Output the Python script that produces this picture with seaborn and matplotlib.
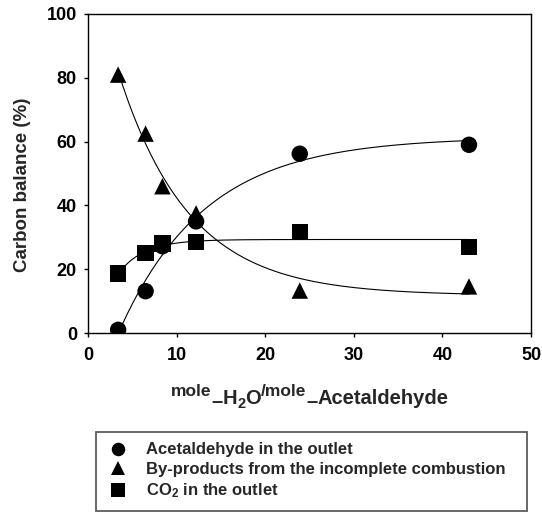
import numpy as np
import pandas as pd
import matplotlib
matplotlib.use("Agg")
import matplotlib.pyplot as plt
import seaborn as sns

# Molar ratio H2O / acetaldehyde and carbon balance of each product (%)
ratio = [3.4, 6.5, 8.4, 12.2, 23.9, 43.0]
acetaldehyde = [1.0, 13.1, 27.2, 35.0, 56.2, 59.0]
byproducts = [81.0, 62.5, 46.0, 37.5, 13.3, 14.6]
co2 = [18.6, 25.1, 28.0, 28.6, 31.6, 27.0]

series_names = [
    "Acetaldehyde in the outlet",
    "By-products from the incomplete combustion",
    r"CO$_\mathbf{2}$ in the outlet",
]
series_values = [acetaldehyde, byproducts, co2]
series_markers = ["o", "^", "s"]

x_ticks = [0, 10, 20, 30, 40, 50]
y_ticks = [0, 20, 40, 60, 80, 100]

W, H = 542, 516

sns.set_style("white")
plt.rcParams["font.family"] = ["Liberation Sans", "DejaVu Sans"]
plt.rcParams["font.weight"] = "bold"
plt.rcParams["mathtext.fontset"] = "custom"
plt.rcParams["mathtext.rm"] = "Liberation Sans:bold"
plt.rcParams["mathtext.bf"] = "Liberation Sans:bold"
plt.rcParams["mathtext.it"] = "Liberation Sans:bold"


def exp_fit(x, y):
    """Least-squares fit of y = c + d*exp(-b*x); returns a callable."""
    x = np.asarray(x, float)
    y = np.asarray(y, float)
    best = None
    for b in np.linspace(0.005, 1.5, 3000):
        A = np.column_stack([np.ones_like(x), np.exp(-b * x)])
        coef, *_ = np.linalg.lstsq(A, y, rcond=None)
        err = np.sum((A @ coef - y) ** 2)
        if best is None or err < best[0]:
            best = (err, b, coef)
    _, b, (c, d) = best
    return lambda t: c + d * np.exp(-b * t)


rows = []
for name, vals in zip(series_names, series_values):
    for xv, yv in zip(ratio, vals):
        rows.append({"ratio": xv, "value": yv, "series": name})
df = pd.DataFrame(rows)

fig = plt.figure(figsize=(W / 100, H / 100), dpi=100)
ax = fig.add_axes([88 / W, 1 - 333 / H, (531 - 88) / W, (333 - 14) / H])

# fitted curves
xs = np.linspace(min(ratio), max(ratio), 300)
for vals in series_values:
    f = exp_fit(ratio, vals)
    sns.lineplot(x=xs, y=f(xs), ax=ax, color="black", linewidth=0.8, legend=False)

sns.scatterplot(
    data=df, x="ratio", y="value", hue="series", style="series",
    palette=["black"] * 3, markers=dict(zip(series_names, series_markers)),
    s=140, edgecolor="black", linewidth=0, ax=ax, legend=True, zorder=3,
)

ax.set_xlim(0, 50)
ax.set_ylim(0, 100)
ax.set_xticks(x_ticks)
ax.set_yticks(y_ticks)
ax.tick_params(axis="both", direction="out", length=3, width=1, labelsize=13,
               bottom=True, left=True, colors="black")
ax.tick_params(axis="x", pad=7)
ax.tick_params(axis="y", pad=5)
for lab in ax.get_xticklabels() + ax.get_yticklabels():
    lab.set_fontweight("bold")
for sp in ax.spines.values():
    sp.set_color("black")
    sp.set_linewidth(1.0)

ax.set_ylabel("Carbon balance (%)", fontsize=13.5, fontweight="bold")
ax.yaxis.set_label_coords(-0.128, 0.465)
ax.set_xlabel("")

# x-axis title built from pieces with raised / lowered parts
xlabel_pieces = [
    ("mole", 12.5, 8), ("\u2013", 14.5, -3), ("H", 14.5, 0), ("2", 10.5, -4),
    ("O", 14.5, 0), ("/mole", 12.5, 8), ("\u2013", 14.5, -3), ("Acetaldehyde", 14.5, 0),
]
fig.canvas.draw()
renderer = fig.canvas.get_renderer()
texts = []
widths = []
for s, size, dy in xlabel_pieces:
    t = fig.text(0, 0, s, fontsize=size, fontweight="bold", ha="left", va="baseline")
    texts.append((t, dy))
    widths.append(t.get_window_extent(renderer).width)
x0 = 310 - sum(widths) / 2
baseline = 404
for (t, dy), w in zip(texts, widths):
    t.set_position((x0 / W, (H - baseline + dy) / H))
    x0 += w

handles, labels = ax.get_legend_handles_labels()
ax.get_legend().remove()
leg = fig.legend(
    handles, labels, loc="upper left",
    bbox_to_anchor=(96 / W, 1 - 432 / H, (527 - 96) / W, 0),
    mode="expand", frameon=True, fancybox=False, shadow=False,
    edgecolor="#333333", prop={"weight": "bold", "size": 12},
    handlelength=1.45, handletextpad=0.95, borderpad=0.62, borderaxespad=0,
    labelspacing=0.28, markerscale=0.82,
)
leg.get_frame().set_linewidth(1.3)

fig.savefig("out.png", dpi=100)
